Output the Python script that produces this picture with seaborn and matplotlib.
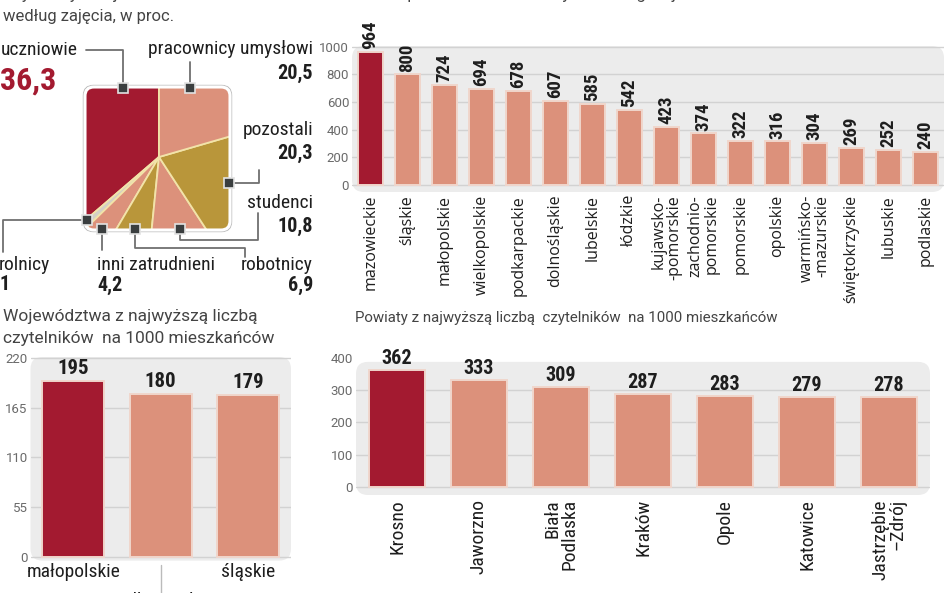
import matplotlib
matplotlib.use('Agg')
import matplotlib.pyplot as plt
import seaborn as sns
from matplotlib.patches import FancyBboxPatch
from matplotlib.lines import Line2D

W, H = 948, 593

# readers by occupation, counter-clockwise from 12 o'clock
occupations = ['uczniowie', 'rolnicy', 'inni zatrudnieni', 'robotnicy',
               'studenci', 'pozostali', 'pracownicy umysłowi']
occ_share = [36.3, 1.0, 4.2, 6.9, 10.8, 20.3, 20.5]
occ_text = ['36,3', '1', '4,2', '6,9', '10,8', '20,3', '20,5']

# libraries per voivodeship
woj_names = ['mazowieckie', 'śląskie', 'małopolskie', 'wielkopolskie',
             'podkarpackie', 'dolnośląskie', 'lubelskie', 'łódzkie',
             'kujawsko-\n-pomorskie', 'zachodnio-\npomorskie', 'pomorskie',
             'opolskie', 'warmińsko-\n-mazurskie', 'świętokrzyskie',
             'lubuskie', 'podlaskie']
woj_libraries = [964, 800, 724, 694, 678, 607, 585, 542,
                 423, 374, 322, 316, 304, 269, 252, 240]

# readers per 1000 inhabitants
top_woj = ['małopolskie', 'podkarpackie', 'śląskie']
top_woj_readers = [195, 180, 179]

top_pow = ['Krosno', 'Jaworzno', 'Biała\nPodlaska', 'Kraków', 'Opole',
           'Katowice', 'Jastrzębie\n–Zdrój']
top_pow_readers = [362, 333, 309, 287, 283, 279, 278]

DARK = '#A31A30'
SALMON = '#DC917B'
OLIVE = '#B9963A'
STONE = '#D3D0C6'
PANEL = '#ECECEC'
GRID = '#D2D2D2'
TICK = '#6A6A6A'
INK = '#1E1E1E'

COND = ['Roboto Condensed', 'Liberation Sans Narrow', 'DejaVu Sans']
SANS = ['Open Sans', 'DejaVu Sans']
LIGHT = ['Roboto', 'DejaVu Sans']

sns.set_style('white')
plt.rcParams['font.family'] = SANS

fig = plt.figure(figsize=(W / 100, H / 100), dpi=100)


def px_axes(left, top, right, bottom):
    return fig.add_axes([left / W, 1 - bottom / H, (right - left) / W, (bottom - top) / H])


def ftext(x, y, s, **kw):
    fig.text(x / W, 1 - y / H, s, **kw)


def fline(xs, ys):
    fig.add_artist(Line2D([x / W for x in xs], [1 - y / H for y in ys],
                          color='#707070', lw=1.3, zorder=6))


def fmarker(x, y):
    fig.add_artist(Line2D([x / W], [1 - y / H], marker='s', ms=7.5, mfc='#3A3E3F',
                          mec='#E2E2E2', mew=1.2, zorder=7))


def bar_panel(ax, names, values, lo, hi, ticks, width, panel_top=None):
    colors = [DARK] + [SALMON] * (len(values) - 1)
    sns.barplot(x=names, y=values, hue=names, palette=colors, legend=False,
                saturation=1, width=width, edgecolor='#F0D6CC', linewidth=1.4,
                ax=ax, zorder=3)
    ax.set_ylim(lo, hi)
    ax.set_facecolor('none')
    sns.despine(ax=ax, left=True, bottom=True)
    ax.set_yticks(ticks)
    ax.set_yticklabels([str(t) for t in ticks], color=TICK, fontsize=9.5, family=LIGHT)
    ax.tick_params(length=0)
    ax.tick_params(axis='y', pad=2)
    ax.yaxis.grid(True, color=GRID, lw=1)
    ax.set_axisbelow(True)
    ax.set_xlabel('')
    ax.set_ylabel('')
    bb = ax.get_position()
    wpx, hpx = bb.width * W, bb.height * H
    top = 1 if panel_top is None else (panel_top - lo) / (hi - lo)
    ax.add_patch(FancyBboxPatch((0, 0), 1, top,
                                boxstyle=f'round,pad=0,rounding_size={12 / wpx}',
                                mutation_aspect=wpx / hpx, transform=ax.transAxes,
                                fc=PANEL, ec='none', zorder=0, clip_on=False))


# ---------- pie (square) ----------
pax = px_axes(85, 87, 230, 230)
occ_colors = [DARK, STONE, SALMON, OLIVE, SALMON, OLIVE, SALMON]
wedges, _ = pax.pie(occ_share, colors=occ_colors, startangle=90, counterclock=True,
                    center=(74, 73), radius=130,
                    wedgeprops=dict(edgecolor='#F2E3A9', linewidth=1.3))
pax.set_xlim(0, 145)
pax.set_ylim(0, 143)
pax.set_aspect('auto')
pax.axis('off')
frame = FancyBboxPatch((0, 0), 145, 143, boxstyle='round,pad=0,rounding_size=9',
                       fc='none', ec='none')
pax.add_patch(frame)
for w in wedges:
    w.set_clip_on(True)
    w.set_clip_path(frame)
pax.add_patch(FancyBboxPatch((-1.5, -1.5), 148, 146, boxstyle='round,pad=0,rounding_size=10',
                             fc='none', ec='#B9B9B9', lw=1.0, zorder=4, clip_on=False))
pax.add_patch(FancyBboxPatch((0, 0), 145, 143, boxstyle='round,pad=0,rounding_size=9',
                             fc='none', ec='white', lw=2.2, zorder=5, clip_on=False))

ftext(3, -5.5, 'Czytelnicy zarejestrowani w bibliotekach', fontsize=12, family=LIGHT,
      color='#444444', va='center')
ftext(3, 17, 'według zajęcia, w proc.', fontsize=12, family=LIGHT, color='#444444', va='center')

lab = dict(fontsize=14, family=COND, color=INK, va='center')
val = dict(fontsize=14.5, family=COND, color=INK, va='center', fontweight='bold')

ftext(1, 50, occupations[0], ha='left', **lab)
ftext(0, 81, occ_text[0], ha='left', fontsize=23, family=COND, color=DARK,
      va='center', fontweight='bold')
ftext(313, 49, occupations[6], ha='right', **lab)
ftext(313, 73, occ_text[6], ha='right', **val)
ftext(313, 130, occupations[5], ha='right', **lab)
ftext(313, 153, occ_text[5], ha='right', **val)
ftext(313, 203, occupations[4], ha='right', **lab)
ftext(313, 226, occ_text[4], ha='right', **val)
ftext(313, 265, occupations[3], ha='right', **lab)
ftext(313, 285, occ_text[3], ha='right', **val)
ftext(97, 265, occupations[2], ha='left', **lab)
ftext(97, 285, occ_text[2], ha='left', **val)
ftext(-1, 265, occupations[1], ha='left', **lab)
ftext(-1, 285, occ_text[1], ha='left', **val)

fline([86, 123, 123], [50, 50, 88])
fline([190, 190], [62, 88])
fline([229, 259, 259], [183, 183, 170])
fline([180, 180, 258, 258], [229, 240, 240, 213])
fline([135, 135, 245, 245], [229, 248, 248, 257])
fline([102, 102], [229, 250])
fline([87, 3, 3], [220, 220, 252])
for mx, my in [(123, 88), (190, 88), (229, 183), (180, 229), (135, 229), (102, 229), (87, 220)]:
    fmarker(mx, my)

# ---------- libraries per voivodeship ----------
ax1 = px_axes(352, 46, 944, 192)
bar_panel(ax1, woj_names, woj_libraries, -50, 1005, [0, 200, 400, 600, 800, 1000], 0.68)
ax1.set_xticks(range(len(woj_names)))
ax1.set_xticklabels(woj_names, rotation=90, fontsize=11.5, family=SANS, color=INK,
                    multialignment='right', linespacing=0.95)
ax1.tick_params(axis='x', pad=2)
for c, v in zip(ax1.containers, woj_libraries):
    ax1.bar_label(c, labels=[str(v)], rotation=90, padding=2, fontsize=13.5,
                  family=COND, fontweight='bold', color=INK)
ftext(355, -5.5, 'Liczba placówek bibliotecznych według województw', fontsize=12,
      family=LIGHT, color='#444444', va='center')

# ---------- readers per 1000: voivodeships ----------
ax2 = px_axes(30.5, 357, 291, 560.6)
bar_panel(ax2, top_woj, top_woj_readers, -4, 221, [0, 55, 110, 165, 220], 0.71)
ax2.set_xticks([])
for c, v in zip(ax2.containers, top_woj_readers):
    ax2.bar_label(c, labels=[str(v)], padding=2, fontsize=15, family=COND,
                  fontweight='bold', color=INK)
xlab = dict(fontsize=14, family=COND, color=INK, ha='center', va='center',
            transform=ax2.get_xaxis_transform())
ax2.text(0, -0.056, top_woj[0], **xlab)
ax2.text(2, -0.056, top_woj[2], **xlab)
ax2.text(1, -0.2, top_woj[1], **xlab)
ax2.plot([1, 1], [-0.02, -0.17], color='#BBBBBB', lw=1, transform=ax2.get_xaxis_transform(),
         clip_on=False)
ftext(3, 317, 'Województwa z najwyższą liczbą', fontsize=12.5, family=LIGHT,
      color='#444444', va='center')
ftext(3, 339, 'czytelników  na 1000 mieszkańców', fontsize=12.5, family=LIGHT,
      color='#444444', va='center')

# ---------- readers per 1000: counties ----------
ax3 = px_axes(356, 358, 930, 495)
bar_panel(ax3, top_pow, top_pow_readers, -25, 400, [0, 100, 200, 300, 400], 0.68,
          panel_top=388)
ax3.get_ygridlines()[-1].set_visible(False)
ax3.set_xticks(range(len(top_pow)))
ax3.set_xticklabels(top_pow, rotation=90, fontsize=14, family=COND, color=INK,
                    multialignment='right', linespacing=0.9)
ax3.tick_params(axis='x', pad=3)
for c, v in zip(ax3.containers, top_pow_readers):
    ax3.bar_label(c, labels=[str(v)], padding=1.5, fontsize=14.5, family=COND,
                  fontweight='bold', color=INK)
ftext(355, 318, 'Powiaty z najwyższą liczbą  czytelników  na 1000 mieszkańców',
      fontsize=10.8, family=LIGHT, color='#444444', va='center')

fig.savefig('out.png', dpi=100)
